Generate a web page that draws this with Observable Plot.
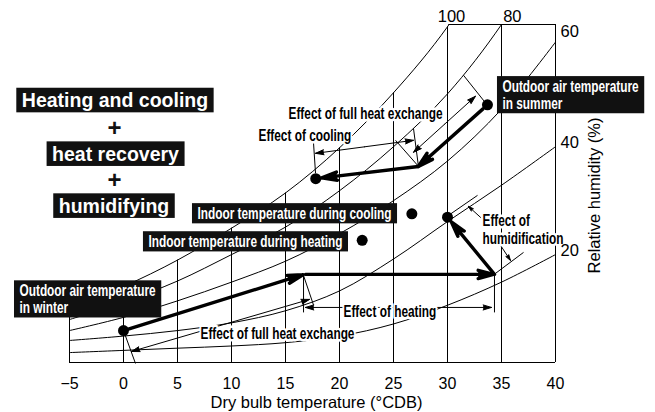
<!DOCTYPE html>
<html><head><meta charset="utf-8">
<script src="https://cdn.jsdelivr.net/npm/d3@7"></script>
<script src="https://cdn.jsdelivr.net/npm/@observablehq/plot@0.6"></script>
<style>
html,body{margin:0;padding:0;background:#fff;}
#chart svg{display:block;}
</style></head><body><div id="chart"></div>
<script>
// ---- grid data (dry bulb °C, humidity) ----
const temps = [-5, 0, 5, 10, 15, 20, 25, 30, 35, 40];
const rh100 = [4.9, 6.9, 9.3, 12.2, 15.4, 19.5, 24.5, 30.5, 38.4, 48.5];
const rh80  = [3.9, 5.5, 7.4, 9.8, 12.3, 15.6, 19.6, 24.4, 30.7, 38.8];
const rh60  = [2.9, 4.1, 5.6, 7.3, 9.2, 11.7, 14.7, 18.3, 23.0, 29.1];
const rh40  = [2.0, 2.4, 2.9, 3.6, 4.7, 6.5, 9.4, 12.8, 16.1, 19.6];
const rh20  = [0.9, 1.1, 1.3, 1.5, 1.8, 2.4, 3.5, 5.2, 7.3, 9.8];
const rhLevels = [100, 80, 60, 40, 20];
const rhSeries = [rh100, rh80, rh60, rh40, rh20];
const xTicks = [-5, 0, 5, 10, 15, 20, 25, 30, 35, 40];
const yTop = 30.7;

// RH labels (top ones centred, right ones left-aligned)
const rhTopText = ["100", "80"];
const rhTopT = [30.37, 36.0];
const rhTopW = [31.4, 31.4];
const rhSideText = ["60", "40", "20"];
const rhSideT = [40.46, 40.46, 40.46];
const rhSideW = [30.0, 20.0, 10.18];

// state points (dots)
const dotT = [0, 22.1, 26.7, 30.0, 33.7, 17.8];
const dotW = [2.9, 11.1, 13.5, 13.2, 23.4, 16.7];

// thick process arrows
const thickT1 = [0, 16.85, 34.35, 33.7, 27.3];
const thickW1 = [2.9, 8.0, 8.0, 23.4, 17.8];
const thickT2 = [16.7, 34.35, 30.0, 27.3, 17.8];
const thickW2 = [8.0, 8.0, 13.2, 17.8, 16.7];
const thickInsetStart = [5, 0, 0, 6, 0];
const thickInsetEnd = [1, 1, 6, 0, 6];

// thin extension lines
const extT1 = [17.59, 26.85, 25.19, 31.48, 0.0, 16.67, 16.67, 34.35, 30.09, 34.44];
const extW1 = [20.0, 21.27, 20.18, 26.09, 2.9, 7.9, 8.0, 8.0, 13.36, 8.09];
const extT2 = [17.78, 27.31, 27.31, 33.7, 1.11, 17.6, 16.67, 34.35, 32.78, 37.04];
const extW2 = [17.2, 17.82, 17.82, 23.36, -0.09, 5.2, 4.55, 4.55, 15.18, 10.0];

// double-headed dimension arrows
const dimT1 = [17.78, 26.85, 0.74, 16.85];
const dimW1 = [19.0, 19.09, 1.0, 5.0];
const dimT2 = [26.85, 32.59, 17.22, 34.07];
const dimW2 = [20.18, 24.18, 5.73, 5.0];

// single leader arrows (humidification)
const leadT1 = [33.06, 34.91];
const leadW1 = [13.18, 10.64];
const leadT2 = [31.94, 35.83];
const leadW2 = [14.18, 9.27];

// effect labels
const effText = ["Effect of full heat exchange", "Effect of cooling", "Effect of full heat exchange", "Effect of heating", "Effect of\nhumidification"];
const effT = [15.28, 12.5, 7.13, 20.37, 33.24];
const effW = [22.64, 20.64, 2.64, 4.64, 12.09];

// boxed labels
const bigText = ["Heating and cooling", "heat recovery", "humidifying"];
const bigT = [-0.79, -0.74, -0.88];
const bigW = [23.77, 18.9, 14.18];
const plusT = [-0.83, -0.83];
const plusW = [21.27, 16.55];
const smallText = ["Outdoor air temperature\nin winter", "Indoor temperature during heating", "Indoor temperature during cooling", "Outdoor air temperature\nin summer"];
const smallT = [-9.63, 2.31, 6.85, 35.09];
const smallW = [5.77, 11.0, 13.55, 24.32];

// ---- derived tables ----
const curveRows = [];
rhSeries.forEach((s, k) => s.forEach((w, i) => curveRows.push({T: temps[i], W: w, rh: rhLevels[k]})));
const satAt = Object.fromEntries(temps.map((t, i) => [t, rh100[i]]));
let topStart = 40;
for (let i = 1; i < temps.length; i++) {
  if (rh100[i - 1] <= yTop && rh100[i] > yTop) {
    topStart = temps[i - 1] + (yTop - rh100[i - 1]) / (rh100[i] - rh100[i - 1]) * (temps[i] - temps[i - 1]);
    break;
  }
}
const idx = a => a.map((_, i) => i);
const sans = "'Liberation Sans',Arial,Helvetica,sans-serif";
const SX = 0.74; // horizontal squeeze for the condensed labels

const dimHalves = [];
dimT1.forEach((t, i) => {
  const mt = (t + dimT2[i]) / 2, mw = (dimW1[i] + dimW2[i]) / 2;
  dimHalves.push({x1: mt, y1: mw, x2: t, y2: dimW1[i]});
  dimHalves.push({x1: mt, y1: mw, x2: dimT2[i], y2: dimW2[i]});
});

const marks = [
  Plot.ruleX(xTicks.filter(t => t > -5 && t < 40), {x: d => d, y1: () => 0, y2: d => Math.min(satAt[d], yTop), stroke: "#000", strokeWidth: 1}),
  Plot.ruleX([-5], {x: d => d, y1: () => 0, y2: () => satAt[-5], stroke: "#000", strokeWidth: 1}),
  Plot.ruleX([40], {x: d => d, y1: () => 0, y2: () => yTop, stroke: "#000", strokeWidth: 1}),
  Plot.ruleY([0], {y: d => d, x1: () => -5, x2: () => 40, stroke: "#000", strokeWidth: 1.2}),
  Plot.ruleY([yTop], {y: d => d, x1: () => topStart, x2: () => 40, stroke: "#000", strokeWidth: 1}),
  Plot.line(curveRows, {x: "T", y: "W", z: "rh", curve: "catmull-rom", stroke: "#000", strokeWidth: 1, clip: true}),
  Plot.link(idx(extT1), {x1: i => extT1[i], y1: i => extW1[i], x2: i => extT2[i], y2: i => extW2[i], stroke: "#000", strokeWidth: 1}),
  Plot.arrow(dimHalves, {x1: "x1", y1: "y1", x2: "x2", y2: "y2", stroke: "#000", strokeWidth: 1, headLength: 13, headAngle: 34, strokeLinejoin: "round", ariaDescription: "filled-arrow"}),
  Plot.arrow(idx(leadT1), {x1: i => leadT1[i], y1: i => leadW1[i], x2: i => leadT2[i], y2: i => leadW2[i], stroke: "#000", strokeWidth: 1, headLength: 13, headAngle: 34, strokeLinejoin: "round", ariaDescription: "filled-arrow"}),
  ...idx(thickT1).map(i => Plot.arrow([i], {x1: () => thickT1[i], y1: () => thickW1[i], x2: () => thickT2[i], y2: () => thickW2[i], stroke: "#000", strokeWidth: 3.4, headLength: 7, headAngle: 30, strokeLinejoin: "round", insetStart: thickInsetStart[i], insetEnd: thickInsetEnd[i], ariaDescription: "filled-arrow"})),
  Plot.dot(idx(dotT), {x: i => dotT[i], y: i => dotW[i], r: 5.5, fill: "#000", stroke: "none"}),
  Plot.text(idx(effT), {x: i => effT[i], y: i => effW[i], text: i => effText[i], textAnchor: "start", fontFamily: sans, fontWeight: "bold", fontSize: 16, lineHeight: 1.12, fill: "#000", stroke: "#fff", strokeWidth: 5, ariaDescription: "condensed"}),
  Plot.text(idx(rhTopT), {x: i => rhTopT[i], y: i => rhTopW[i], text: i => rhTopText[i], textAnchor: "middle", fontFamily: sans, fontSize: 16.5, fill: "#000"}),
  Plot.text(idx(rhSideT), {x: i => rhSideT[i], y: i => rhSideW[i], text: i => rhSideText[i], textAnchor: "start", fontFamily: sans, fontSize: 16.5, fill: "#000"}),
  Plot.text(["Dry bulb temperature (°CDB)"], {frameAnchor: "bottom", dy: 40, dx: 4, lineAnchor: "middle", textAnchor: "middle", text: d => d, fontFamily: sans, fontSize: 16.5, fill: "#000"}),
  Plot.text(["Relative humidity (%)"], {frameAnchor: "right", dx: 39, dy: 2, rotate: -90, textAnchor: "middle", lineAnchor: "middle", text: d => d, fontFamily: sans, fontSize: 16.5, fill: "#000"}),
  Plot.text(idx(bigT), {x: i => bigT[i], y: i => bigW[i], text: i => bigText[i], textAnchor: "middle", fontFamily: sans, fontWeight: "bold", fontSize: 19.5, fill: "#fff", ariaDescription: "boxed"}),
  Plot.text(idx(plusT), {x: i => plusT[i], y: i => plusW[i], text: () => "+", textAnchor: "middle", fontFamily: sans, fontWeight: "bold", fontSize: 24, fill: "#111"}),
  Plot.text(idx(smallT), {x: i => smallT[i], y: i => smallW[i], text: i => smallText[i], textAnchor: "start", fontFamily: sans, fontWeight: "bold", fontSize: 16, lineHeight: 1.06, fill: "#fff", ariaDescription: "boxed condensed"})
];

const svg = Plot.plot({
  width: 655,
  height: 412,
  marginLeft: 69,
  marginRight: 100,
  marginTop: 24,
  marginBottom: 50,
  style: {background: "#fff", fontFamily: sans, fontSize: "16px", color: "#000", overflow: "visible"},
  x: {domain: [-5, 40], ticks: xTicks, tickSize: 0, tickPadding: 15, label: null},
  y: {domain: [0, yTop], axis: null},
  marks
});
document.getElementById("chart").append(svg);

// squeeze condensed labels horizontally (keeps left anchor)
function condense(t, sx) {
  const spans = t.querySelectorAll("tspan");
  const targets = spans.length ? [...spans] : [t];
  targets.forEach(el => {
    const L = el.getComputedTextLength();
    el.setAttribute("textLength", (L * sx).toFixed(2));
    el.setAttribute("lengthAdjust", "spacingAndGlyphs");
  });
}
svg.querySelectorAll('g[aria-description~="condensed"] text').forEach(t => condense(t, SX));
// black boxes behind boxed labels
svg.querySelectorAll('g[aria-description~="boxed"] text').forEach(t => {
  const cond = t.parentNode.getAttribute("aria-description").includes("condensed");
  const padX = 5.5, padY = cond ? 1.6 : 1.3;
  const b = t.getBBox();
  const r = document.createElementNS("http://www.w3.org/2000/svg", "rect");
  r.setAttribute("x", b.x - padX);
  r.setAttribute("y", b.y - padY);
  r.setAttribute("width", b.width + 2 * padX);
  r.setAttribute("height", b.height + 2 * padY);
  r.setAttribute("fill", "#111");
  const tr = t.getAttribute("transform");
  if (tr) r.setAttribute("transform", tr);
  t.parentNode.insertBefore(r, t);
});
svg.querySelectorAll('g[aria-description="filled-arrow"] path').forEach(p => p.setAttribute("fill", "#000"));
</script></body></html>
